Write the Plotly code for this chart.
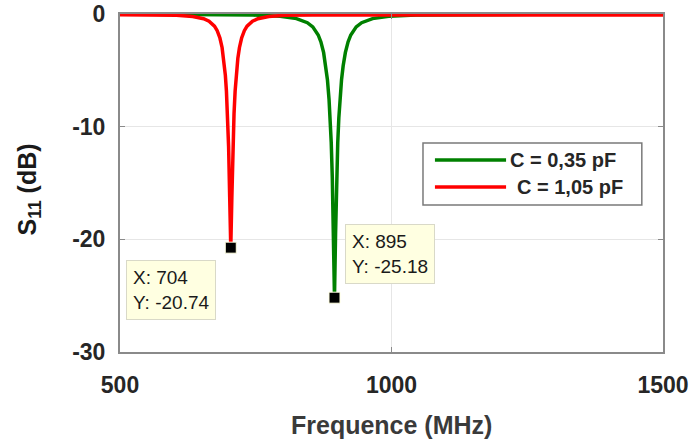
import plotly.graph_objects as go

# ---- data ----
freq_red = [500, 554, 604, 634, 654, 664, 674, 679, 684, 688, 691, 694, 696, 698, 700, 702,
            704,
            706, 708, 710, 712, 714, 717, 720, 724, 729, 734, 744, 754, 774, 804, 854, 1000, 1200, 1500]
s11_red = [-0.07, -0.08, -0.11, -0.22, -0.42, -0.64, -1.08, -1.48, -2.13, -2.97, -3.95, -5.42, -6.85, -8.84, -11.76, -16.26,
           -20.74,
           -16.26, -11.76, -8.84, -6.85, -5.42, -3.95, -2.97, -2.13, -1.48, -1.08, -0.64, -0.42, -0.22, -0.11, -0.08, -0.08, -0.08, -0.08]

freq_green = [500, 600, 700, 745, 795, 825, 845, 855, 865, 870, 875, 879, 882, 885, 887, 889, 891, 893,
              895,
              897, 899, 901, 903, 905, 908, 911, 915, 920, 925, 935, 945, 965, 995, 1045, 1145, 1300, 1500]
s11_green = [-0.01, -0.02, -0.05, -0.09, -0.20, -0.41, -0.77, -1.14, -1.86, -2.48, -3.43, -4.59, -5.83, -7.60, -9.23, -11.42, -14.57, -19.51,
             -25.18,
             -19.51, -14.57, -11.42, -9.23, -7.60, -5.83, -4.59, -3.43, -2.48, -1.86, -1.14, -0.77, -0.41, -0.20, -0.09, -0.03, -0.01, -0.01]

series_names = ["C = 0,35 pF", " C = 1,05 pF"]
tip_x = [704, 895]
tip_y = [-20.74, -25.18]
x_ticks = [500, 1000, 1500]
x_ticktext = ["500", "1000", "1500"]
y_ticks = [-30, -20, -10, 0]
y_ticktext = ["-30", "-20", "-10", "0"]

GREEN = "#008000"
RED = "#ff0000"
AX = "#262626"
FONT = "Liberation Sans, Arial, sans-serif"

fig = go.Figure()
fig.add_trace(go.Scatter(x=freq_green, y=s11_green, mode="lines",
                         line=dict(color=GREEN, width=3.5), showlegend=False))
fig.add_trace(go.Scatter(x=freq_red, y=s11_red, mode="lines",
                         line=dict(color=RED, width=3.5), showlegend=False))
fig.add_trace(go.Scatter(x=tip_x, y=tip_y, mode="markers",
                         marker=dict(symbol="square", size=11, color="black",
                                     line=dict(color="#ffffe1", width=1)),
                         showlegend=False))

# data tips
fig.add_annotation(x=511, y=-21.83, xref="x", yref="y", xanchor="left", yanchor="top",
                   text=f"X: {tip_x[0]}<br>Y: {tip_y[0]}", showarrow=False, align="left",
                   font=dict(family=FONT, size=19, color="#1a1a1a"),
                   bgcolor="#ffffe1", bordercolor="#d9d9c8", borderwidth=1, borderpad=6)
fig.add_annotation(x=914, y=-18.64, xref="x", yref="y", xanchor="left", yanchor="top",
                   text=f"X: {tip_x[1]}<br>Y: {tip_y[1]}", showarrow=False, align="left",
                   font=dict(family=FONT, size=19, color="#1a1a1a"),
                   bgcolor="#ffffe1", bordercolor="#d9d9c8", borderwidth=1, borderpad=6)

# custom legend
fig.add_shape(type="rect", xref="x", yref="y", x0=1058, x1=1461, y0=-11.45, y1=-16.95,
              line=dict(color="#7a7a7a", width=1.5), fillcolor="white", layer="above")
legend_text_x = [1214, 1227]
for i, (col, yy) in enumerate([(GREEN, -12.96), (RED, -15.35)]):
    fig.add_shape(type="line", xref="x", yref="y", x0=1080, x1=1211, y0=yy, y1=yy,
                  line=dict(color=col, width=3.5), layer="above")
    fig.add_annotation(x=legend_text_x[i], y=yy, xref="x", yref="y", xanchor="left", yanchor="middle",
                       text="<b>" + series_names[i].strip() + "</b>", showarrow=False,
                       font=dict(family=FONT, size=20, color=AX))

# axis titles
fig.add_annotation(x=0.5, y=-0.217, xref="paper", yref="paper", xanchor="center", yanchor="middle",
                   text="<b>Frequence (MHz)</b>", showarrow=False,
                   font=dict(family=FONT, size=25, color="#3a3a3a"))
fig.add_annotation(x=-0.168, y=0.48, xref="paper", yref="paper", xanchor="center", yanchor="middle",
                   text="<b>S<sub>11</sub> (dB)</b>", showarrow=False, textangle=-90,
                   font=dict(family=FONT, size=25, color="#1a1a1a"))

axis_common = dict(showline=True, linecolor="#8a8a8a", linewidth=2, mirror="ticks",
                   ticks="inside", ticklen=5, tickcolor="#8a8a8a", tickwidth=1,
                   showgrid=True, gridcolor="#e6e6e6", gridwidth=1, zeroline=False,
                   automargin=False,
                   tickfont=dict(family=FONT, size=23, color=AX, weight="bold"))

fig.update_xaxes(range=[500, 1500], tickvals=x_ticks, ticktext=x_ticktext,
                 ticklabelstandoff=11, **axis_common)
fig.update_yaxes(range=[-30, 0], tickvals=y_ticks, ticktext=y_ticktext,
                 ticklabelstandoff=8, **axis_common)

fig.update_layout(width=692, height=441, margin=dict(l=120, r=29, t=14, b=89),
                  paper_bgcolor="white", plot_bgcolor="white", showlegend=False)

fig.write_html("out.html", config={"displayModeBar": False},
               post_script="document.body.style.margin='0';")
